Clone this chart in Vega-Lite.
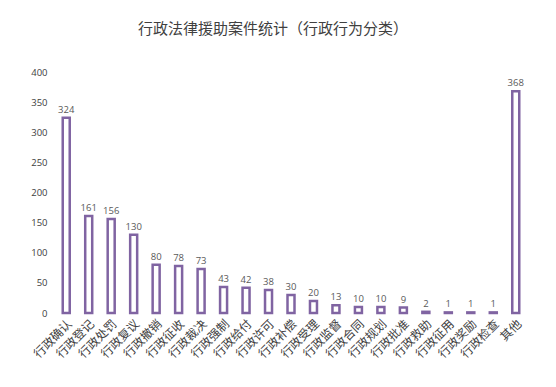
{
  "$schema": "https://vega.github.io/schema/vega-lite/v6.json",
  "width": 472,
  "height": 241,
  "autosize": "none",
  "padding": {"left": 55, "top": 72, "right": 29, "bottom": 74},
  "background": "white",
  "title": {
    "text": "行政法律援助案件统计（行政行为分类）",
    "font": "Noto Sans CJK SC",
    "fontSize": 15,
    "fontWeight": "normal",
    "color": "#404040",
    "anchor": "middle",
    "offset": 30,
    "dx": -18
  },
  "data": {
    "values": [
      {"cat": "行政确认", "n": 324},
      {"cat": "行政登记", "n": 161},
      {"cat": "行政处罚", "n": 156},
      {"cat": "行政复议", "n": 130},
      {"cat": "行政撤销", "n": 80},
      {"cat": "行政征收", "n": 78},
      {"cat": "行政裁决", "n": 73},
      {"cat": "行政强制", "n": 43},
      {"cat": "行政给付", "n": 42},
      {"cat": "行政许可", "n": 38},
      {"cat": "行政补偿", "n": 30},
      {"cat": "行政受理", "n": 20},
      {"cat": "行政监督", "n": 13},
      {"cat": "行政合同", "n": 10},
      {"cat": "行政规划", "n": 10},
      {"cat": "行政批准", "n": 9},
      {"cat": "行政救助", "n": 2},
      {"cat": "行政征用", "n": 1},
      {"cat": "行政奖励", "n": 1},
      {"cat": "行政检查", "n": 1},
      {"cat": "其他", "n": 368}
    ]
  },
  "encoding": {
    "x": {
      "field": "cat",
      "type": "nominal",
      "sort": null,
      "title": null,
      "axis": {
        "labelAngle": -45,
        "labelFont": "Noto Sans CJK SC",
        "labelFontSize": 12,
        "labelColor": "#404040",
        "ticks": false,
        "domain": false,
        "labelPadding": 5
      }
    },
    "y": {
      "field": "n",
      "type": "quantitative",
      "title": null,
      "scale": {"domain": [0, 400]},
      "axis": {
        "values": [0, 50, 100, 150, 200, 250, 300, 350, 400],
        "grid": false,
        "ticks": false,
        "domain": false,
        "labelFont": "Open Sans",
        "labelFontSize": 9.5,
        "labelColor": "#404040",
        "labelPadding": 8
      }
    }
  },
  "layer": [
    {
      "mark": {"type": "bar", "size": 7, "fill": "white", "stroke": "#8064A2", "strokeWidth": 2.5}
    },
    {
      "mark": {"type": "text", "dy": -8, "font": "Open Sans", "fontSize": 9.5, "color": "#595959"},
      "encoding": {"text": {"field": "n", "type": "quantitative"}}
    }
  ],
  "config": {"view": {"stroke": null}}
}
